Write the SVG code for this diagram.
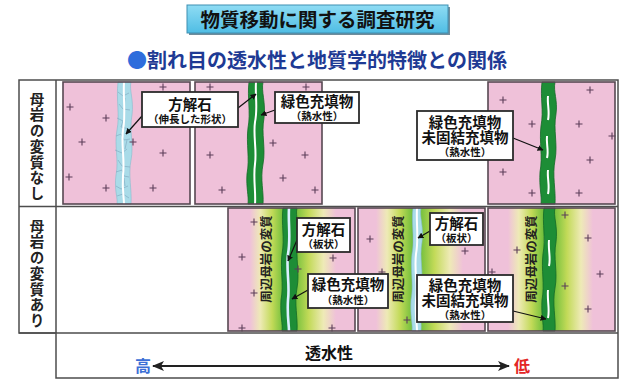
<svg xmlns="http://www.w3.org/2000/svg" xmlns:xlink="http://www.w3.org/1999/xlink" width="623" height="381" viewBox="0 0 623 381">
  <style>
    .jp { font-family: "Noto Sans CJK JP", "Noto Sans", sans-serif; font-weight: 700; }
    .frame { fill: none; stroke: #4d4d4d; stroke-width: 1.5; }
    .panel { fill: #efc1d9; }
    .panel-edge { fill: none; stroke: #574852; stroke-width: 1.6; }
    .box { fill: #ffffff; stroke: #2b2b2b; stroke-width: 1.8; }
    .callout { fill: #111; text-anchor: middle; }
    .big { font-size: 14.5px; }
    .small { font-size: 10.5px; }
    .side { font-size: 14.5px; fill: #222; writing-mode: vertical-rl; letter-spacing: 1.2px; }
    .zone-text { font-size: 12.5px; fill: #222; text-anchor: middle; dominant-baseline: central; }
    .lead { stroke: #111; stroke-width: 1.2; fill: none; marker-end: url(#tip); }
    .green-vein { fill: #1d8d36; stroke: #146a27; stroke-width: 0.8; }
    .calcite-vein { fill: #a9dbe8; stroke: #86bccd; stroke-width: 0.6; }
    .core { fill: none; stroke: #ffffff; stroke-width: 2; }
    .crack { fill: none; stroke: #7ea6bd; stroke-width: 0.6; }
  </style>
  <defs>
    <path id="plus" d="M-3.5 0h7M0-3.5v7" stroke="#5b3d58" stroke-width="1.1"/>
    <marker id="tip" viewBox="0 0 10 10" refX="9" refY="5" markerWidth="6" markerHeight="6" orient="auto" markerUnits="userSpaceOnUse">
      <path d="M0 0L10 5L0 10Z" fill="#111"/>
    </marker>
    <marker id="bigtip" viewBox="0 0 12 10" refX="11" refY="5" markerWidth="14" markerHeight="10" orient="auto-start-reverse" markerUnits="userSpaceOnUse">
      <path d="M0 0L12 5L0 10L3 5Z" fill="#222"/>
    </marker>
    <linearGradient id="titleFill" x1="0" y1="0" x2="0" y2="1">
      <stop offset="0" stop-color="#8fdcf4"/>
      <stop offset="1" stop-color="#4fbde4"/>
    </linearGradient>
    <linearGradient id="zoneL" x1="0" y1="0" x2="1" y2="0">
      <stop offset="0" stop-color="#efc1d9"/>
      <stop offset="0.3" stop-color="#eeeab6"/>
      <stop offset="0.65" stop-color="#c2da58"/>
      <stop offset="1" stop-color="#6cbd3a"/>
    </linearGradient>
    <linearGradient id="zoneR" x1="0" y1="0" x2="1" y2="0">
      <stop offset="0" stop-color="#6cbd3a"/>
      <stop offset="0.35" stop-color="#c2da58"/>
      <stop offset="0.7" stop-color="#eeeab6"/>
      <stop offset="1" stop-color="#efc1d9"/>
    </linearGradient>
  </defs>

  <rect width="623" height="381" fill="#ffffff"/>

  <!-- heading -->
  <g id="title">
    <rect x="189" y="7" width="261" height="28" fill="#6f8d9c"/>
    <rect x="187" y="5" width="261" height="28" fill="url(#titleFill)" stroke="#3e8fb2" stroke-width="1"/>
    <text class="jp" x="317.5" y="26.5" font-size="19.5" text-anchor="middle" fill="#111">物質移動に関する調査研究</text>
  </g>
  <g id="subtitle">
    <text class="jp" x="317" y="68" font-size="20" text-anchor="middle" fill="#1e3a94"><tspan fill="#2f6ddc">●</tspan>割れ目の透水性と地質学的特徴との関係</text>
  </g>

  <!-- table frame -->
  <g id="table-frame" class="frame">
    <path d="M19 80H618V378H56V333H19Z"/>
    <path d="M56 80V333M19 206.5H618M19 333H618"/>
  </g>

  <g id="row-label-1">
    <text class="jp side" x="37" y="92">母岩の変質なし</text>
  </g>
  <g id="row-label-2">
    <text class="jp side" x="37" y="219">母岩の変質あり</text>
  </g>

  <!-- row 1, panel A: elongated calcite vein -->
  <g id="panel-a">
    <rect class="panel" x="63" y="82" width="127" height="122"/>
    <path class="calcite-vein" d="M118 82C116 100 120 115 117 130C114 145 119 160 116 175C114 190 118 198 117 204L131 204C132 190 128 175 131 160C134 145 129 130 132 115C134 100 129 90 131 82Z"/>
    <path class="crack" d="M118 92l5 4l6-3M119 104l4 5l7 1M117 118l6 3l-2 6l8 2M116 136l5-2l3 6l6-1M115 150l7 3l5-4M118 160l4 6l8 1M116 172l6-2l2 6l5 1M116 186l5 3l7-3M117 196l6-2l6 4M125 98l-1 8M127 140l-2 9M124 178l1 8"/>
    <path class="core" d="M124 82C123 100 126 115 123 130C121 145 125 160 123 175C122 190 124 198 124 204"/>
    <g>
      <use href="#plus" x="163" y="87"/><use href="#plus" x="70" y="107"/><use href="#plus" x="106" y="118"/>
      <use href="#plus" x="82" y="142"/><use href="#plus" x="133" y="142"/><use href="#plus" x="163" y="153"/>
      <use href="#plus" x="69" y="177"/><use href="#plus" x="106" y="188"/><use href="#plus" x="153" y="188"/>
    </g>
    <rect class="panel-edge" x="63" y="82" width="127" height="122"/>
  </g>

  <!-- row 1, panel B: green filling with calcite core -->
  <g id="panel-b">
    <rect class="panel" x="195" y="82" width="127" height="122"/>
    <path class="green-vein" d="M249 82C247 98 251 112 248 128C246 144 250 158 247 174C246 188 249 196 248 204L263 204C264 192 260 180 263 164C266 148 261 134 264 118C266 102 261 92 263 82Z"/>
    <path class="core" d="M256 82C255 96 258 108 255 122C253 136 257 150 255 164C253 178 256 192 255 204"/>
    <g>
      <use href="#plus" x="210" y="87"/><use href="#plus" x="306" y="87"/><use href="#plus" x="210" y="155"/>
      <use href="#plus" x="273" y="143"/><use href="#plus" x="305" y="155"/><use href="#plus" x="283" y="178"/>
      <use href="#plus" x="222" y="190"/><use href="#plus" x="315" y="190"/>
    </g>
    <rect class="panel-edge" x="195" y="82" width="127" height="122"/>
  </g>

  <!-- row 1, panel C: green + unconsolidated filling -->
  <g id="panel-c">
    <rect class="panel" x="488" y="82" width="127" height="122"/>
    <path class="green-vein" d="M542 82C540 98 544 110 541 126C539 142 543 156 540 172C539 188 542 196 541 204L555 204C556 190 552 176 555 160C558 144 553 130 556 114C558 100 553 92 555 82Z"/>
    <path class="core" d="M548 96C547 104 550 112 548 120M547 136C546 144 549 150 547 158M548 170C547 178 550 186 548 194"/>
    <g>
      <use href="#plus" x="590" y="90"/><use href="#plus" x="503" y="100"/><use href="#plus" x="532" y="124"/>
      <use href="#plus" x="579" y="124"/><use href="#plus" x="612" y="136"/><use href="#plus" x="590" y="160"/>
      <use href="#plus" x="503" y="172"/><use href="#plus" x="532" y="193"/><use href="#plus" x="579" y="193"/>
    </g>
    <rect class="panel-edge" x="488" y="82" width="127" height="122"/>
  </g>

  <!-- row 2, panel D: altered host rock around green filling -->
  <g id="panel-d">
    <rect class="panel" x="228" y="208" width="127" height="123"/>
    <rect x="250" y="208" width="34" height="123" fill="url(#zoneL)"/>
    <rect x="294" y="208" width="42" height="123" fill="url(#zoneR)"/>
    <path class="green-vein" d="M283 208C281 224 285 238 282 254C280 270 284 284 281 300C280 316 283 324 282 331L297 331C298 318 294 304 297 288C300 272 295 258 298 242C300 226 295 216 297 208Z"/>
    <path d="M289 208C288 224 291 238 288 254C286 270 290 284 288 300C287 316 289 324 289 331" fill="none" stroke="#dcefff" stroke-width="2.6"/>
    <text class="jp zone-text" transform="translate(265 259) rotate(-90)">周辺母岩の変質</text>
    <g>
      <use href="#plus" x="254" y="222"/><use href="#plus" x="242" y="257"/><use href="#plus" x="254" y="293"/>
      <use href="#plus" x="242" y="328"/><use href="#plus" x="298" y="269"/><use href="#plus" x="333" y="258"/>
      <use href="#plus" x="332" y="328"/>
    </g>
    <rect class="panel-edge" x="228" y="208" width="127" height="123"/>
  </g>

  <!-- row 2, panel E: altered host rock around platy calcite -->
  <g id="panel-e">
    <rect class="panel" x="358" y="208" width="127" height="123"/>
    <rect x="376" y="208" width="37" height="123" fill="url(#zoneL)"/>
    <rect x="419" y="208" width="44" height="123" fill="url(#zoneR)"/>
    <path class="calcite-vein" d="M413 208C411 224 415 238 412 254C410 270 414 284 411 300C410 316 413 324 412 331L421 331C422 318 418 304 421 288C424 272 419 258 422 242C424 226 419 216 421 208Z"/>
    <path class="core" d="M417 208C416 224 419 238 416 254C414 270 418 284 416 300C415 316 417 324 417 331" stroke-width="1.6"/>
    <text class="jp zone-text" transform="translate(397 259) rotate(-90)">周辺母岩の変質</text>
    <g>
      <use href="#plus" x="370" y="239"/><use href="#plus" x="382" y="272"/><use href="#plus" x="407" y="320"/>
      <use href="#plus" x="465" y="251"/>
    </g>
    <rect class="panel-edge" x="358" y="208" width="127" height="123"/>
  </g>

  <!-- row 2, panel F: altered host rock around green filling -->
  <g id="panel-f">
    <rect class="panel" x="488" y="208" width="127" height="123"/>
    <rect x="508" y="208" width="36" height="123" fill="url(#zoneL)"/>
    <rect x="553" y="208" width="40" height="123" fill="url(#zoneR)"/>
    <path class="green-vein" d="M544 208C542 224 546 238 543 254C541 270 545 284 542 300C541 316 544 324 543 331L555 331C556 318 552 304 555 288C558 272 553 258 556 242C558 226 553 216 555 208Z"/>
    <path class="core" d="M549 240C548 250 551 258 549 266M548 290C547 300 550 310 548 318" stroke-width="1.6"/>
    <text class="jp zone-text" transform="translate(530 259) rotate(-90)">周辺母岩の変質</text>
    <g>
      <use href="#plus" x="565" y="215"/><use href="#plus" x="588" y="238"/><use href="#plus" x="517" y="250"/>
      <use href="#plus" x="600" y="274"/><use href="#plus" x="565" y="286"/><use href="#plus" x="588" y="309"/>
      <use href="#plus" x="492" y="272"/>
    </g>
    <rect class="panel-edge" x="488" y="208" width="127" height="123"/>
  </g>

  <!-- leader arrows from the callouts -->
  <g id="connectors">
    <path class="lead" d="M142 116L126 134"/>
    <path class="lead" d="M238 108L256 94"/>
    <path class="lead" d="M275 110L261 115"/>
    <path class="lead" d="M513 138L543 150"/>
    <path class="lead" d="M297 240L288 261"/>
    <path class="lead" d="M308 290L292 299"/>
    <path class="lead" d="M430 231L418 238"/>
    <path class="lead" d="M513 311L546 319"/>
  </g>

  <!-- callouts -->
  <g id="label-calcite-elongated">
    <rect class="box" x="142" y="92" width="96" height="35"/>
    <text class="jp callout"><tspan class="big" x="190" y="109.5">方解石</tspan><tspan class="small" x="190" y="123">（伸長した形状）</tspan></text>
  </g>
  <g id="label-green-1">
    <rect class="box" x="275" y="92" width="84" height="31"/>
    <text class="jp callout"><tspan class="big" x="317" y="107">緑色充填物</tspan><tspan class="small" x="317" y="119.5">（熱水性）</tspan></text>
  </g>
  <g id="label-green-unconsolidated-1">
    <rect class="box" x="417" y="111" width="96" height="49"/>
    <text class="jp callout"><tspan class="big" x="465" y="127.5">緑色充填物</tspan><tspan class="big" x="465" y="143">未固結充填物</tspan><tspan class="small" x="465" y="156">（熱水性）</tspan></text>
  </g>
  <g id="label-calcite-platy-1">
    <rect class="box" x="297" y="218" width="53" height="34"/>
    <text class="jp callout"><tspan class="big" x="323.5" y="235">方解石</tspan><tspan class="small" x="323.5" y="248">（板状）</tspan></text>
  </g>
  <g id="label-green-2">
    <rect class="box" x="308" y="274" width="80" height="34"/>
    <text class="jp callout"><tspan class="big" x="348" y="290">緑色充填物</tspan><tspan class="small" x="348" y="304">（熱水性）</tspan></text>
  </g>
  <g id="label-calcite-platy-2">
    <rect class="box" x="430" y="213" width="53" height="32"/>
    <text class="jp callout"><tspan class="big" x="456.5" y="229">方解石</tspan><tspan class="small" x="456.5" y="242">（板状）</tspan></text>
  </g>
  <g id="label-green-unconsolidated-2">
    <rect class="box" x="417" y="275" width="96" height="47"/>
    <text class="jp callout"><tspan class="big" x="465" y="290.5">緑色充填物</tspan><tspan class="big" x="465" y="305.5">未固結充填物</tspan><tspan class="small" x="465" y="318.5">（熱水性）</tspan></text>
  </g>

  <!-- permeability axis -->
  <g id="permeability-axis">
    <text class="jp" x="329" y="359" font-size="16" text-anchor="middle" fill="#111">透水性</text>
    <path d="M153 366H509" stroke="#222" stroke-width="1.8" marker-start="url(#bigtip)" marker-end="url(#bigtip)"/>
    <text class="jp" x="143" y="372" font-size="16" text-anchor="middle" fill="#3b6fd6">高</text>
    <text class="jp" x="522" y="372" font-size="16" text-anchor="middle" fill="#e32626">低</text>
  </g>
</svg>
